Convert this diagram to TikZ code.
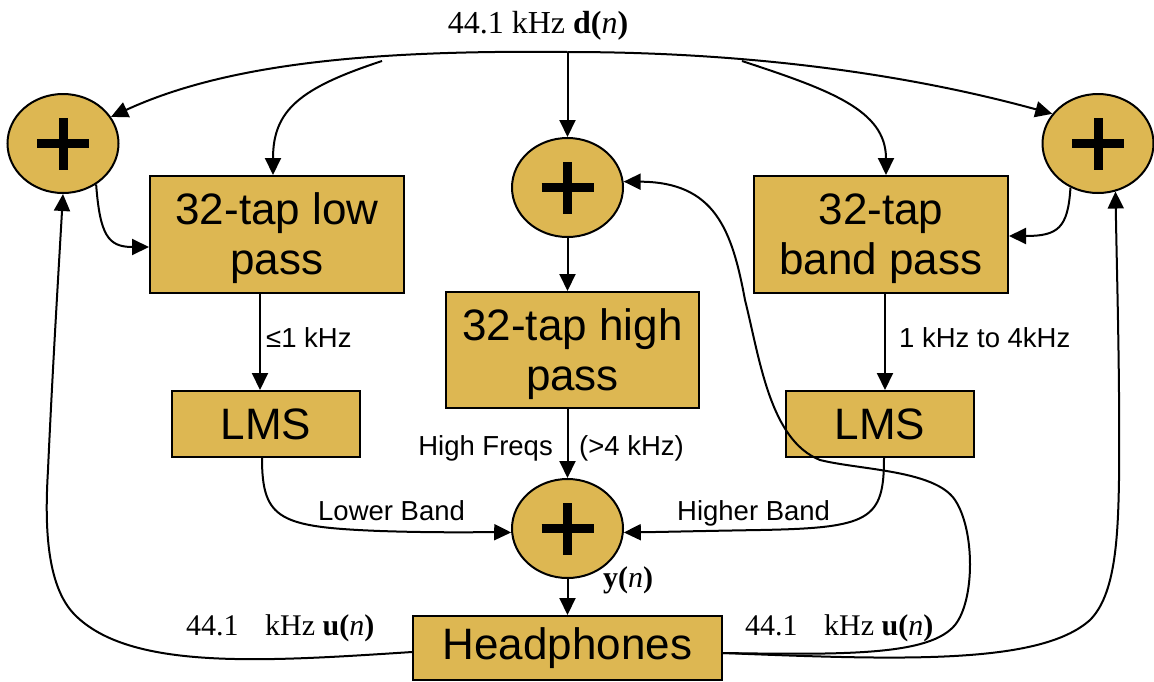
\documentclass[tikz,border=0pt]{standalone}
\usepackage{fontspec}
\setmainfont{Liberation Serif}
\newfontfamily\arial{Liberation Sans}
\usetikzlibrary{arrows.meta,shapes.geometric}
\definecolor{gold}{RGB}{221,183,82}
\newcommand{\topstrut}{\rule{0pt}{40pt}}
\begin{document}
\begin{tikzpicture}[x=1pt,y=-1pt,
  goldfill/.style={fill=gold, draw=black, line width=2pt},
  boxn/.style={goldfill, rectangle, inner sep=0pt, font=\arial\fontsize{44}{50}\selectfont, align=center},
  sumn/.style={goldfill, ellipse, minimum width=111pt, minimum height=99pt, inner sep=0pt,
    path picture={\draw[line width=9pt,line cap=butt]
      ([xshift=-26pt]path picture bounding box.center) -- ([xshift=26pt]path picture bounding box.center)
      ([yshift=-26pt]path picture bounding box.center) -- ([yshift=26pt]path picture bounding box.center);}},
  conn/.style={line width=2pt, -{Triangle[length=17pt,width=16pt]}},
  lbl/.style={inner sep=0pt, font=\arial\fontsize{27.5}{33}\selectfont},
  serif/.style={inner sep=0pt, font=\fontsize{30}{36}\selectfont}]
\useasboundingbox (0,0) rectangle (1154,681);

% boxes
\node[boxn, minimum width=254pt, minimum height=117pt] (lp) at (277,234.5) {\topstrut32-tap low\\pass};
\node[boxn, minimum width=253pt, minimum height=116pt] (hpass) at (572.5,350) {\topstrut32-tap high\\pass};
\node[boxn, minimum width=254pt, minimum height=117pt] (bp) at (881,234.5) {\topstrut32-tap\\band pass};
\node[boxn, minimum width=188pt, minimum height=66pt] (lms1) at (266,424) {LMS};
\node[boxn, minimum width=188pt, minimum height=66pt] (lms2) at (880,424) {LMS};
\node[boxn, minimum width=309pt, minimum height=64pt] (hp) at (567.5,648) {Headphones};

% summing junctions
\node[sumn] (lc) at (63,143.5) {};
\node[sumn] (rc) at (1098,143.5) {};
\node[sumn] (tc) at (567.5,187.5) {};
\node[sumn] (bc) at (567.5,528.5) {};

% texts
\node[serif, anchor=base, font=\fontsize{32}{38}\selectfont] (title) at (538,33) {44.1 kHz \textbf{d(}\textit{n}\textbf{)}};
\node[lbl, anchor=base west] (l1k) at (266,347) {≤1 kHz};
\node[lbl, anchor=base west] (l14) at (899,347) {1 kHz to 4kHz};
\node[lbl, anchor=base east] (lhf) at (553,455) {High Freqs};
\node[lbl, anchor=base west] (lgt) at (579,455) {(>4 kHz)};
\node[lbl, anchor=base west] (llb) at (318,520) {Lower Band};
\node[lbl, anchor=base west] (lhb) at (677,520) {Higher Band};
\node[serif, anchor=base west] (lyn) at (603,587) {\textbf{y(}\textit{n}\textbf{)}};
\node[serif, anchor=base west] (lu1) at (186,635) {44.1\hspace{19pt} kHz \textbf{u(}\textit{n}\textbf{)}};
\node[serif, anchor=base west] (lu2) at (745,635) {44.1\hspace{19pt} kHz \textbf{u(}\textit{n}\textbf{)}};

% connectors
\coordinate (J) at (567.5,52);
\coordinate (bl) at (382,61);
\coordinate (br) at (742,61);
\draw[conn] (J) -- (tc.north);
\draw[conn] (J) .. controls (380,50) and (230,62) .. (lc.29);
\draw[conn] (J) .. controls (740,52) and (900,72) .. (rc.147);
\draw[conn] (bl) .. controls (300,88) and (273,110) .. ([xshift=-4pt]lp.north);
\draw[conn] (br) .. controls (830,90) and (886,110) .. ([xshift=5pt]bp.north);
\draw[conn] (lc.-51) .. controls (100,235) and (108,247) .. ([yshift=-12.5pt]lp.west);
\draw[conn] (rc.238) .. controls (1068,228) and (1058,236) .. ([yshift=-1.5pt]bp.east);

\draw[conn] ([xshift=-17pt]lp.south) -- ([xshift=-6pt]lms1.north);
\draw[conn] ([xshift=4pt]bp.south) -- ([xshift=5pt]lms2.north);
\draw[conn] (tc.south) -- (tc.south |- hpass.north);
\draw[conn] (bc.north |- hpass.south) -- (bc.north);
\draw[conn] (bc.south) -- (hp.north);

\draw[conn] ([xshift=-4pt]lms1.south) .. controls (262,520) and (280,527) .. (380,531)
  .. controls (440,533) and (480,532) .. (bc.184);
\draw[conn] ([xshift=4pt]lms2.south) .. controls (884,520) and (870,528) .. (760,530)
  .. controls (700,531) and (660,532) .. (bc.-4);

\draw[conn] ([yshift=-4pt]hp.west) .. controls (260,662) and (130,670) .. (75,615)
  .. controls (45,585) and (45,520) .. (48,470)
  .. controls (52,380) and (58,280) .. (lc.south);
\draw[conn] ([yshift=-5pt]hp.east) .. controls (900,660) and (1040,665) .. (1090,620)
  .. controls (1115,595) and (1118,540) .. (1119,480)
  .. controls (1120,380) and (1117,280) .. (rc.-70);
\draw[conn] ([yshift=-5pt]hp.east) .. controls (850,655) and (930,655) .. (955,625)
  .. controls (975,600) and (975,530) .. (955,500)
  .. controls (935,470) and (860,470) .. (820,460)
  .. controls (770,440) and (760,360) .. (745,300)
  .. controls (732,230) and (715,182) .. (tc.6);
\end{tikzpicture}
\end{document}
